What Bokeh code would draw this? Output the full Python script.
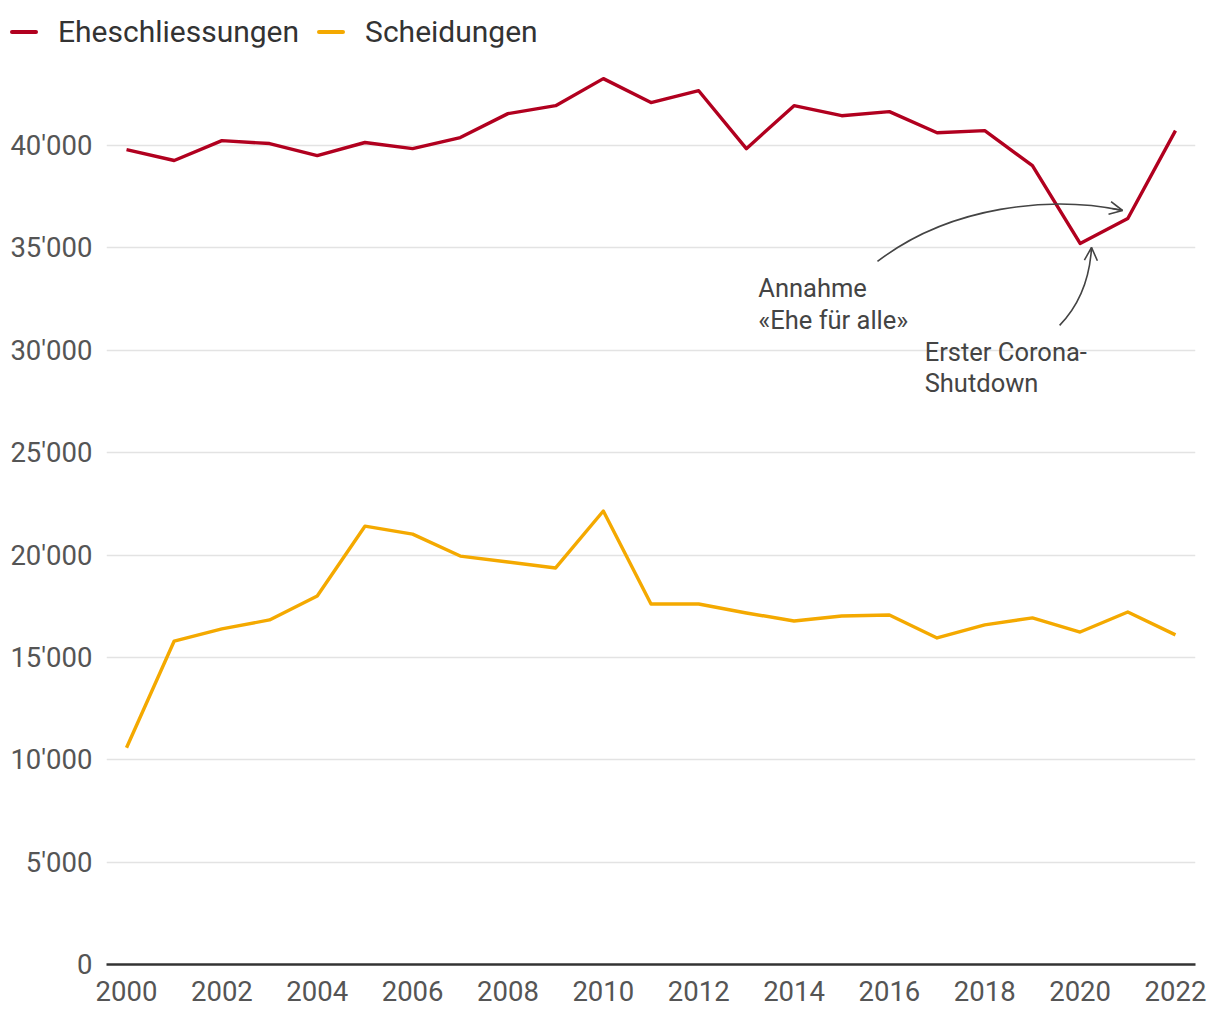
from bokeh.plotting import figure
from bokeh.layouts import column
from bokeh.models import (Range1d, FixedTicker, CustomJSTickFormatter, Div,
                          Label, Arrow, OpenHead, ColumnDataSource)
from bokeh.embed import file_html
from bokeh.resources import INLINE

years = list(range(2000, 2023))
eheschliessungen = [39800, 39270, 40240, 40100, 39510, 40150, 39850, 40390, 41560, 41950,
                    43270, 42100, 42680, 39850, 41950, 41460, 41660, 40630, 40730, 39020,
                    35220, 36440, 40730]
scheidungen = [10590, 15800, 16390, 16830, 18000, 21410, 21020, 19950, 19660, 19370,
               22150, 17610, 17610, 17170, 16780, 17020, 17070, 15950, 16590, 16930,
               16240, 17220, 16100]
series_names = ["Eheschliessungen", "Scheidungen"]
x_ticks = list(range(2000, 2023, 2))
y_ticks = list(range(0, 45000, 5000))

RED = "#b1001f"
ORANGE = "#f4a900"
FONT = "Roboto"
TXT = "#555555"
LW = 3.4

# ---- legend strip (HTML, not clipped by a plot frame) ----
def swatch(color, ml):
    return (f'<span style="display:inline-block;width:28px;height:4px;border-radius:2px;'
            f'background:{color};margin-left:{ml}px;margin-right:20px;"></span>')

legend_html = (
    '<div style="display:flex;align-items:center;box-sizing:border-box;height:47px;'
    'padding-top:16px;padding-left:10px;line-height:30px;white-space:nowrap;'
    f'font-family:{FONT};font-size:30px;color:#333333;">'
    + swatch(RED, 0) + f'<span>{series_names[0]}</span>'
    + swatch(ORANGE, 18) + f'<span>{series_names[1]}</span>'
    + '</div>'
)
leg = Div(text=legend_html, width=1212, height=47, margin=(0, 0, 0, 0))

# ---- main chart ----
p = figure(width=1212, height=965, output_backend="svg", toolbar_location=None,
           x_range=Range1d(1999.58, 2022.42), y_range=Range1d(0, 44400),
           min_border_left=106, min_border_right=17, min_border_top=8, min_border_bottom=48)
p.outline_line_color = None

src = ColumnDataSource(dict(year=years, ehe=eheschliessungen, sch=scheidungen))
p.line("year", "ehe", source=src, line_color=RED, line_width=LW, line_join="round")
p.line("year", "sch", source=src, line_color=ORANGE, line_width=LW, line_join="round")

p.xaxis.ticker = FixedTicker(ticks=x_ticks)
p.yaxis.ticker = FixedTicker(ticks=y_ticks)
p.yaxis.formatter = CustomJSTickFormatter(code="""
return tick.toFixed(0).replace(/\\B(?=(\\d{3})+(?!\\d))/g, "'");
""")
for ax in (p.xaxis, p.yaxis):
    ax.major_tick_line_color = None
    ax.minor_tick_line_color = None
    ax.major_label_text_font = FONT
    ax.major_label_text_font_size = "27.5px"
    ax.major_label_text_color = TXT
p.yaxis.axis_line_color = None
p.yaxis.major_label_standoff = 8
p.xaxis.axis_line_color = "#333333"
p.xaxis.axis_line_width = 2.5
p.xaxis.major_label_standoff = 10

p.xgrid.grid_line_color = None
p.ygrid.grid_line_color = "#e3e3e3"
p.ygrid.grid_line_width = 1.5
p.ygrid.ticker = FixedTicker(ticks=y_ticks[1:])

# annotations
ANN = "#444444"
p.bezier(x0=[2015.75], y0=[34341], x1=[2020.89], y1=[36829],
         cx0=[2017.28], cy0=[37073], cx1=[2019.38], cy1=[37561],
         line_color=ANN, line_width=1.6)
p.add_layout(Arrow(end=OpenHead(size=13, line_color=ANN, line_width=1.6),
                   x_start=2020.68, y_start=36927, x_end=2020.89, y_end=36829,
                   line_color=ANN, line_width=1.6))
p.quadratic(x0=[2019.57], y0=[31220], x1=[2020.24], y1=[35024],
            cx=[2020.18], cy=[32683], line_color=ANN, line_width=1.6)
p.add_layout(Arrow(end=OpenHead(size=13, line_color=ANN, line_width=1.6),
                   x_start=2020.235, y_start=34800, x_end=2020.24, y_end=35024,
                   line_color=ANN, line_width=1.6))

for txt, x, y in [("Annahme", 2013.25, 33800), ("«Ehe für alle»", 2013.25, 32190),
                  ("Erster Corona-", 2016.74, 30670), ("Shutdown", 2016.74, 29160)]:
    p.add_layout(Label(x=x, y=y, text=txt, text_font=FONT, text_font_size="25.5px",
                       text_color=ANN, text_baseline="top", text_align="left"))

layout = column(leg, p, spacing=0)
open("out.html", "w").write(file_html(layout, INLINE))
